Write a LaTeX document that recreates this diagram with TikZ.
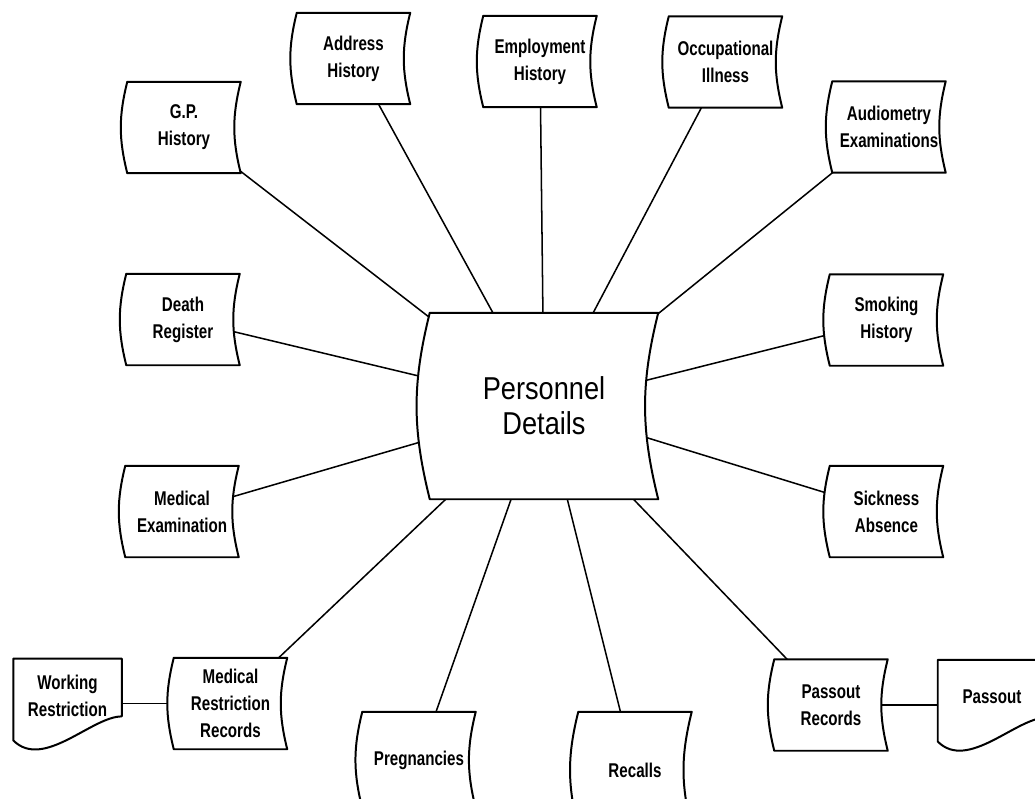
\documentclass[tikz,border=0pt]{standalone}
\usepackage{fontspec}
\setmainfont{Liberation Sans}
\newfontfamily\boxfont{Liberation Sans}[FakeStretch=0.76]
\newfontfamily\detfont{Liberation Sans}[FakeStretch=0.86]
\usepackage{tikz}
\usetikzlibrary{positioning, calc, backgrounds}

\begin{document}
\begin{tikzpicture}
[x=0.03cm, y=-0.03cm,
 store/.style={rectangle, inner sep=0pt, minimum width=3.39cm, minimum height=2.73cm,
   align=center, font=\boxfont\bfseries\fontsize{17}{23}\selectfont},
 doc/.style={store, minimum width=3.24cm, minimum height=2.2cm},
 link/.style={line width=1.3pt},
 rim/.style={line width=1.7pt, fill=white, line join=round}]

\useasboundingbox (0,0) rectangle (1035,798);

% central record
\node[store, minimum width=6.84cm, minimum height=5.58cm,
  font=\detfont\fontsize{27}{30}\selectfont] (pd) at (544,406) {Personnel\\Details};

% stores round it
\node[store] (gp) at (184,127.5) {G.P.\\History};
\node[store] (addr) at (353.5,58.5) {Address\\History};
\node[store] (emp) at (540,61.5) {Employment\\History};
\node[store] (occ) at (725.5,62) {Occupational\\Illness};
\node[store] (aud) at (889,127) {Audiometry\\Examinations};
\node[store] (death) at (183,319.5) {Death\\Register};
\node[store] (smok) at (886.5,320) {Smoking\\History};
\node[store] (medex) at (182,511.5) {Medical\\Examination};
\node[store] (sick) at (886.5,511.5) {Sickness\\Absence};
\node[store] (medres) at (230.5,703.5) {Medical\\Restriction\\Records};
\node[store, minimum height=2.88cm] (preg) at (419,760) {Pregnancies};
\node[store, minimum height=3.48cm] (recall) at (635,770) {Recalls};
\node[store] (passrec) at (831,705) {Passout\\Records};

% documents
\node[doc, left=1.56cm of medres, yshift=0.24cm] (workres) {Working\\Restriction};
\node[doc, right=1.5cm of passrec, yshift=0.25cm] (passout) {Passout};

\begin{scope}[on background layer]
  \foreach \n in {gp,addr,emp,occ,aud,death,smok,medex,sick,medres,preg,recall,passrec}
    \draw[link] (pd.center) -- (\n.center);
  \draw[link] (workres.center |- medres.center) -- (medres.center);
  \draw[link] (passrec.center) -- (passout.center |- passrec.center);

  \foreach \n in {pd,gp,addr,emp,occ,aud,death,smok,medex,sick,medres,preg,recall,passrec}
    \draw[rim] (\n.north west) -- (\n.north east) to[bend right=14] (\n.south east)
      -- (\n.south west) to[bend left=14] (\n.north west) -- cycle;
  \foreach \n in {workres,passout}
    \draw[rim] (\n.south west) -- (\n.north west) -- (\n.north east)
      -- ($(\n.south east)+(0,-16)$) .. controls +(-30,0) and +(30,30) .. ($(\n.south west)+(0,8)$) -- cycle;
\end{scope}

\end{tikzpicture}
\end{document}
